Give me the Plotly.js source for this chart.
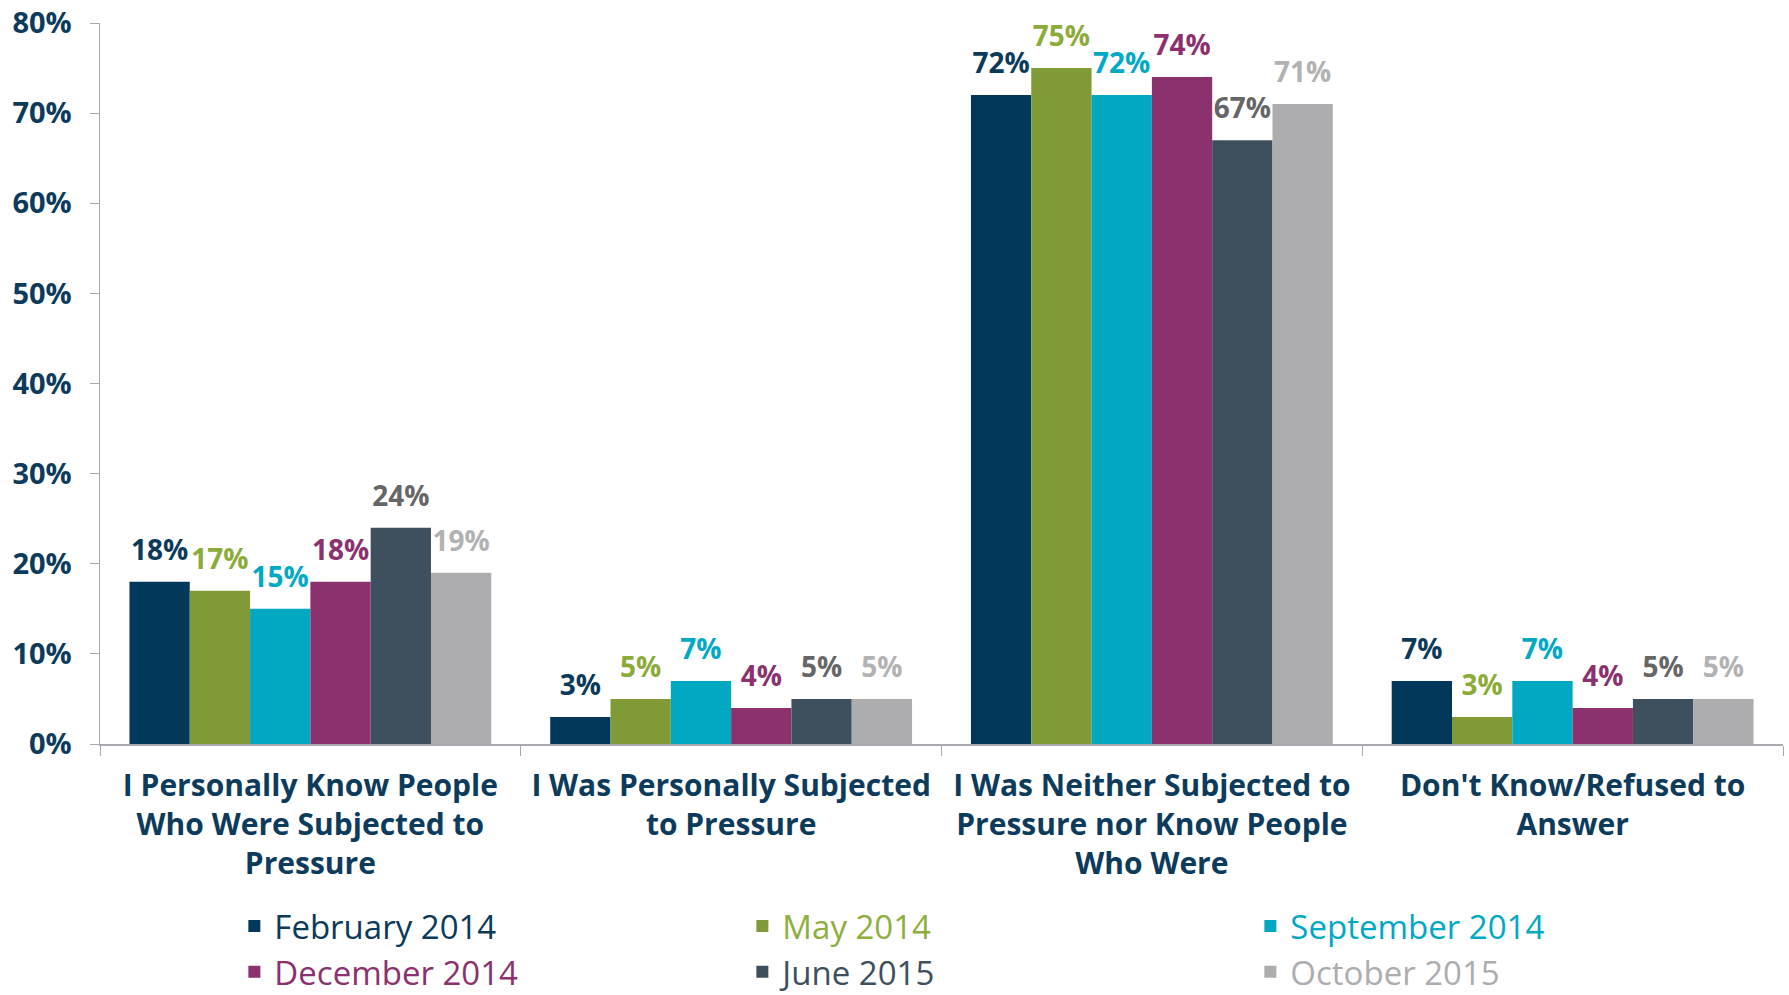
<!DOCTYPE html>
<html>
<head>
<meta charset="utf-8">
<script src="https://cdn.plot.ly/plotly-3.0.1.min.js"></script>
<style>html,body{margin:0;padding:0;background:#fff;}#chart{width:1789px;height:995px;}</style>
</head>
<body>
<div id="chart"></div>
<script>
var categories = ["Know people", "Personally subjected", "Neither", "Don't know"];
var tickLabels = [
  "I Personally Know People<br>Who Were Subjected to<br>Pressure",
  "I Was Personally Subjected<br>to Pressure",
  "I Was Neither Subjected to<br>Pressure nor Know People<br>Who Were",
  "Don't Know/Refused to<br>Answer"
];
var seriesNames = ["February 2014", "May 2014", "September 2014", "December 2014", "June 2015", "October 2015"];
var feb2014 = [18, 3, 72, 7];
var may2014 = [17, 5, 75, 3];
var sep2014 = [15, 7, 72, 7];
var dec2014 = [18, 4, 74, 4];
var jun2015 = [24, 5, 67, 5];
var oct2015 = [19, 5, 71, 5];
var seriesValues = [feb2014, may2014, sep2014, dec2014, jun2015, oct2015];

var barColors = ['#02395a', '#7f9a37', '#00a8c2', '#8b316e', '#3e505e', '#adadaf'];
var labelColors = ['#0b3a5a', '#8cac3a', '#00a9c4', '#8b316e', '#666666', '#b2b2b2'];
var legendColors = ['#0b3a5a', '#8fae3d', '#00a9c3', '#8b316e', '#3e505e', '#adadaf'];

var navy = '#0d3b5c';
var traces = [];
seriesValues.forEach(function (vals, i) {
  traces.push({
    type: 'bar',
    x: categories,
    y: vals,
    name: '<span style="color:' + legendColors[i] + '">' + seriesNames[i] + '</span>',
    marker: {color: barColors[i], line: {width: 0}},
    hoverinfo: 'skip'
  });
});
seriesValues.forEach(function (vals, i) {
  traces.push({
    type: 'scatter',
    mode: 'markers+text',
    x: categories,
    y: vals,
    text: vals.map(function (v) { return v + '%'; }),
    textposition: 'top center',
    textfont: {family: 'Open Sans', size: 28, weight: 'bold', color: labelColors[i]},
    marker: {size: 22, color: 'rgba(0,0,0,0)'},
    cliponaxis: false,
    showlegend: false,
    hoverinfo: 'skip'
  });
});

var layout = {
  width: 1789,
  height: 995,
  margin: {l: 100, r: 6, t: 23, b: 251},
  paper_bgcolor: '#ffffff',
  plot_bgcolor: '#ffffff',
  barmode: 'group',
  bargap: 0.14,
  bargroupgap: 0,
  scattermode: 'group',
  scattergap: 0.14,
  showlegend: true,
  legend: {
    orientation: 'h',
    xref: 'container', yref: 'container',
    x: 0.131, y: 0.0975,
    xanchor: 'left', yanchor: 'top',
    entrywidth: 463,
    entrywidthmode: 'pixels',
    font: {family: 'Open Sans', size: 33, color: navy},
    traceorder: 'normal',
    itemclick: false
  },
  xaxis: {
    type: 'category',
    tickmode: 'array',
    tickvals: categories,
    ticktext: tickLabels,
    tickson: 'boundaries',
    ticks: 'outside',
    ticklen: 10,
    tickcolor: '#a7aab0',
    showline: true,
    linecolor: '#a7aab0',
    linewidth: 1.5,
    showgrid: false,
    zeroline: false,
    ticklabelstandoff: 14,
    tickfont: {family: 'Open Sans', size: 30, weight: 'bold', color: navy}
  },
  yaxis: {
    range: [0, 80],
    tickvals: [0, 10, 20, 30, 40, 50, 60, 70, 80],
    ticktext: ['0%', '10%', '20%', '30%', '40%', '50%', '60%', '70%', '80%'],
    ticks: 'outside',
    ticklen: 9,
    tickcolor: '#a7aab0',
    showline: true,
    linecolor: '#a7aab0',
    linewidth: 1.5,
    showgrid: false,
    zeroline: false,
    ticklabelstandoff: 12,
    tickfont: {family: 'Open Sans', size: 29, weight: 'bold', color: navy}
  }
};

Plotly.newPlot('chart', traces, layout, {staticPlot: true, displayModeBar: false});
</script>
</body>
</html>
